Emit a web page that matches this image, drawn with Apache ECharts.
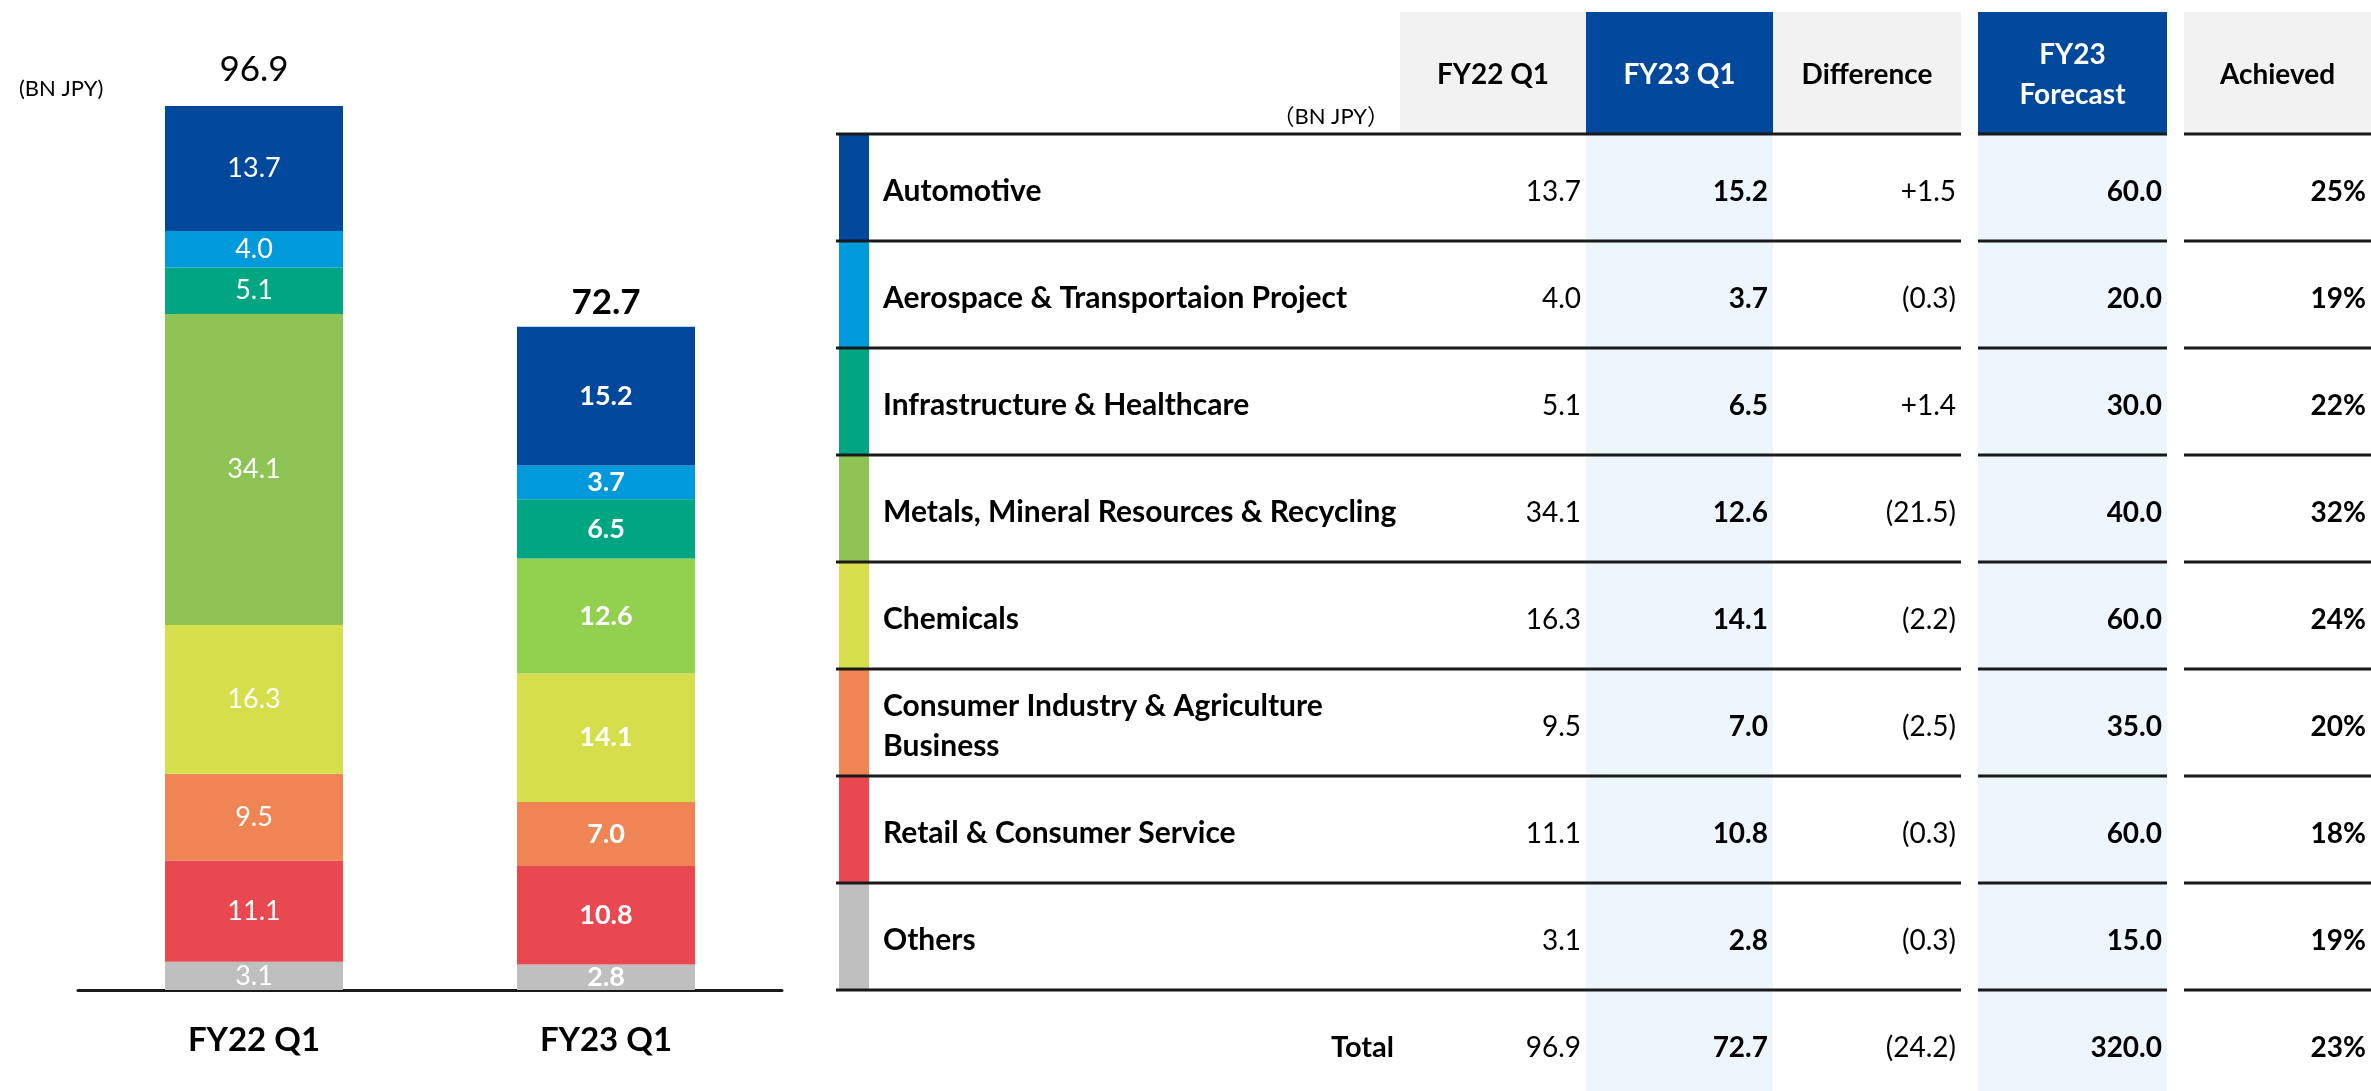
<!DOCTYPE html>
<html>
<head>
<meta charset="utf-8">
<script src="https://cdn.jsdelivr.net/npm/echarts/dist/echarts.min.js"></script>
<style>
  html, body { margin: 0; padding: 0; background: #fff; }
  #chart { width: 2371px; height: 1091px; }
</style>
</head>
<body>
<div id="chart"></div>
<script>
// ---- data (BN JPY) ----
const periods = ['FY22 Q1', 'FY23 Q1'];
const periodTotals = [96.9, 72.7];
const segments = [
  'Automotive',
  'Aerospace & Transportaion Project',
  'Infrastructure & Healthcare',
  'Metals, Mineral Resources & Recycling',
  'Chemicals',
  'Consumer Industry & Agriculture\nBusiness',
  'Retail & Consumer Service',
  'Others'
];
const fy22q1 = [13.7, 4.0, 5.1, 34.1, 16.3, 9.5, 11.1, 3.1];
const fy23q1 = [15.2, 3.7, 6.5, 12.6, 14.1, 7.0, 10.8, 2.8];
const difference = [1.5, -0.3, 1.4, -21.5, -2.2, -2.5, -0.3, -0.3];
const fy23Forecast = [60.0, 20.0, 30.0, 40.0, 60.0, 35.0, 60.0, 15.0];
const achieved = [25, 19, 22, 32, 24, 20, 18, 19];
const tableHeaders = ['FY22 Q1', 'FY23 Q1', 'Difference', 'FY23\nForecast', 'Achieved'];
const totalRow = [96.9, 72.7, -24.2, 320.0, 23];

// ---- styles ----
const FONT = "Lato, 'Noto Sans CJK JP', sans-serif";
const segColors = ['#00489C', '#0099DC', '#00A582', '#8DC455', '#D6DF4B', '#EF8554', '#E94851', '#BFBFBF'];
const segColors23 = ['#00489C', '#0099DC', '#00A582', '#92D050', '#D6DF4B', '#EF8554', '#E94851', '#BFBFBF'];
const headerFill = ['#F2F2F2', '#00489C', '#F2F2F2', '#00489C', '#F2F2F2'];
const colBold = [false, true, false, true, true];

const fmt1 = v => v.toFixed(1);
const fmtDiff = v => v >= 0 ? '+' + v.toFixed(1) : '(' + Math.abs(v).toFixed(1) + ')';
const fmtPct = v => v + '%';
const colFormat = [fmt1, fmt1, fmtDiff, fmt1, fmtPct];
const valueCols = [fy22q1, fy23q1, difference, fy23Forecast, achieved];

// table layout, in table-axis units (x: px from table left, y: rows)
const colEdges = [[0, 564], [564, 750], [750, 937], [937, 1125], [1142, 1331], [1348, 1535]];
const lineSpans = [[0, 1125], [1142, 1331], [1348, 1535]];
const HEAD_TOP = -1.14;
const TABLE_BOTTOM = 8.944;
const TEXT_MID = 0.54;

// ---- stacked bars ----
const barSeries = [];
for (let i = segments.length - 1; i >= 0; i--) {
  barSeries.push({
    type: 'bar',
    name: segments[i],
    stack: 'total',
    xAxisIndex: 0,
    yAxisIndex: 0,
    barWidth: 178,
    barGap: '-100%',
    itemStyle: { color: segColors[i] },
    label: {
      show: true,
      position: 'inside',
      color: '#fff',
      fontSize: 27,
      fontFamily: FONT,
      formatter: p => fmt1(p.value)
    },
    data: [
      { value: fy22q1[i] },
      { value: fy23q1[i], itemStyle: { color: segColors23[i] }, label: { fontWeight: 'bold' } }
    ]
  });
}
barSeries.push({
  type: 'bar',
  name: 'total',
  xAxisIndex: 0,
  yAxisIndex: 0,
  barWidth: 178,
  barGap: '-100%',
  silent: true,
  z: 1,
  itemStyle: { color: 'transparent' },
  label: {
    show: true,
    position: 'top',
    color: '#000',
    fontSize: 35,
    fontFamily: FONT,
    formatter: p => fmt1(p.value)
  },
  data: [
    { value: periodTotals[0], label: { distance: 19 } },
    { value: periodTotals[1], label: { distance: 7, fontWeight: 'bold' } }
  ]
});

// ---- table pieces ----
const rects = [];
tableHeaders.forEach((h, c) => {
  rects.push({ x0: colEdges[c + 1][0], x1: colEdges[c + 1][1], y0: HEAD_TOP, y1: 0, fill: headerFill[c] });
});
[2, 4].forEach(c => {
  rects.push({ x0: colEdges[c][0], x1: colEdges[c][1], y0: 0, y1: TABLE_BOTTOM, fill: '#EDF5FD' });
});
segments.forEach((s, r) => {
  rects.push({ x0: 3, x1: 33, y0: r, y1: r + 1, fill: segColors[r] });
});

const lines = [];
for (let k = 0; k <= segments.length; k++) {
  lineSpans.forEach(sp => lines.push({ x0: sp[0], x1: sp[1], y: k }));
}

const texts = [];
tableHeaders.forEach((h, c) => {
  const e = colEdges[c + 1];
  texts.push({ x: (e[0] + e[1]) / 2, y: -0.55, text: h, align: 'center', bold: true,
    color: headerFill[c] === '#00489C' ? '#fff' : '#000', size: 28 });
});
texts.push({ x: 553, y: -0.16, text: '（BN JPY）', align: 'right', bold: false, color: '#000', size: 22 });
segments.forEach((s, r) => {
  texts.push({ x: 47, y: r + TEXT_MID, text: s, align: 'left', bold: true, color: '#000', size: 30 });
  valueCols.forEach((col, c) => {
    texts.push({ x: colEdges[c + 1][1] - 5, y: r + TEXT_MID, text: colFormat[c](col[r]), align: 'right',
      bold: colBold[c], color: '#000', size: 28 });
  });
});
const totalY = segments.length + TEXT_MID;
texts.push({ x: colEdges[0][1] - 6, y: totalY, text: 'Total', align: 'right', bold: true, color: '#000', size: 29 });
totalRow.forEach((v, c) => {
  texts.push({ x: colEdges[c + 1][1] - 5, y: totalY, text: colFormat[c](v), align: 'right',
    bold: colBold[c], color: '#000', size: 28 });
});

const chart = echarts.init(document.getElementById('chart'));
chart.setOption({
  animation: false,
  backgroundColor: '#fff',
  title: {
    text: '(BN JPY)',
    left: 14,
    top: 73,
    textStyle: { fontSize: 22, fontWeight: 'normal', color: '#000', fontFamily: FONT }
  },
  grid: [
    { left: 78, top: 77.7, width: 704, height: 912.3 },
    { left: 836, top: 12, width: 1535, height: 1079 }
  ],
  xAxis: [
    {
      type: 'category',
      gridIndex: 0,
      data: periods,
      axisLine: { lineStyle: { color: '#1a1a1a', width: 3 } },
      axisTick: { show: false },
      axisLabel: { fontSize: 33, fontWeight: 'bold', color: '#000', margin: 34, fontFamily: FONT }
    },
    { type: 'value', gridIndex: 1, min: 0, max: 1535, show: false }
  ],
  yAxis: [
    { type: 'value', gridIndex: 0, min: 0, max: 100, show: false },
    { type: 'value', gridIndex: 1, min: HEAD_TOP, max: TABLE_BOTTOM, inverse: true, show: false }
  ],
  series: barSeries.concat([
    {
      type: 'custom',
      name: 'cells',
      xAxisIndex: 1,
      yAxisIndex: 1,
      silent: true,
      z: 1,
      data: rects.map(d => [d.x0, d.y0, d.x1, d.y1]),
      renderItem: (params, api) => {
        const a = api.coord([api.value(0), api.value(1)]);
        const b = api.coord([api.value(2), api.value(3)]);
        return {
          type: 'rect',
          shape: { x: a[0], y: a[1], width: b[0] - a[0], height: b[1] - a[1] },
          style: { fill: rects[params.dataIndex].fill }
        };
      }
    },
    {
      type: 'custom',
      name: 'rules',
      xAxisIndex: 1,
      yAxisIndex: 1,
      silent: true,
      z: 2,
      data: lines.map(d => [d.x0, d.y, d.x1]),
      renderItem: (params, api) => {
        const a = api.coord([api.value(0), api.value(1)]);
        const b = api.coord([api.value(2), api.value(1)]);
        return {
          type: 'line',
          shape: { x1: a[0], y1: a[1], x2: b[0], y2: b[1] },
          style: { stroke: '#1a1a1a', lineWidth: 3 }
        };
      }
    },
    {
      type: 'custom',
      name: 'texts',
      xAxisIndex: 1,
      yAxisIndex: 1,
      silent: true,
      z: 3,
      data: texts.map(d => [d.x, d.y]),
      renderItem: (params, api) => {
        const t = texts[params.dataIndex];
        const p = api.coord([api.value(0), api.value(1)]);
        return {
          type: 'text',
          x: p[0],
          y: p[1],
          style: {
            text: t.text,
            fill: t.color,
            fontSize: t.size,
            fontWeight: t.bold ? 'bold' : 'normal',
            fontFamily: FONT,
            align: t.align,
            verticalAlign: 'middle',
            lineHeight: 40
          }
        };
      }
    }
  ])
});
</script>
</body>
</html>
